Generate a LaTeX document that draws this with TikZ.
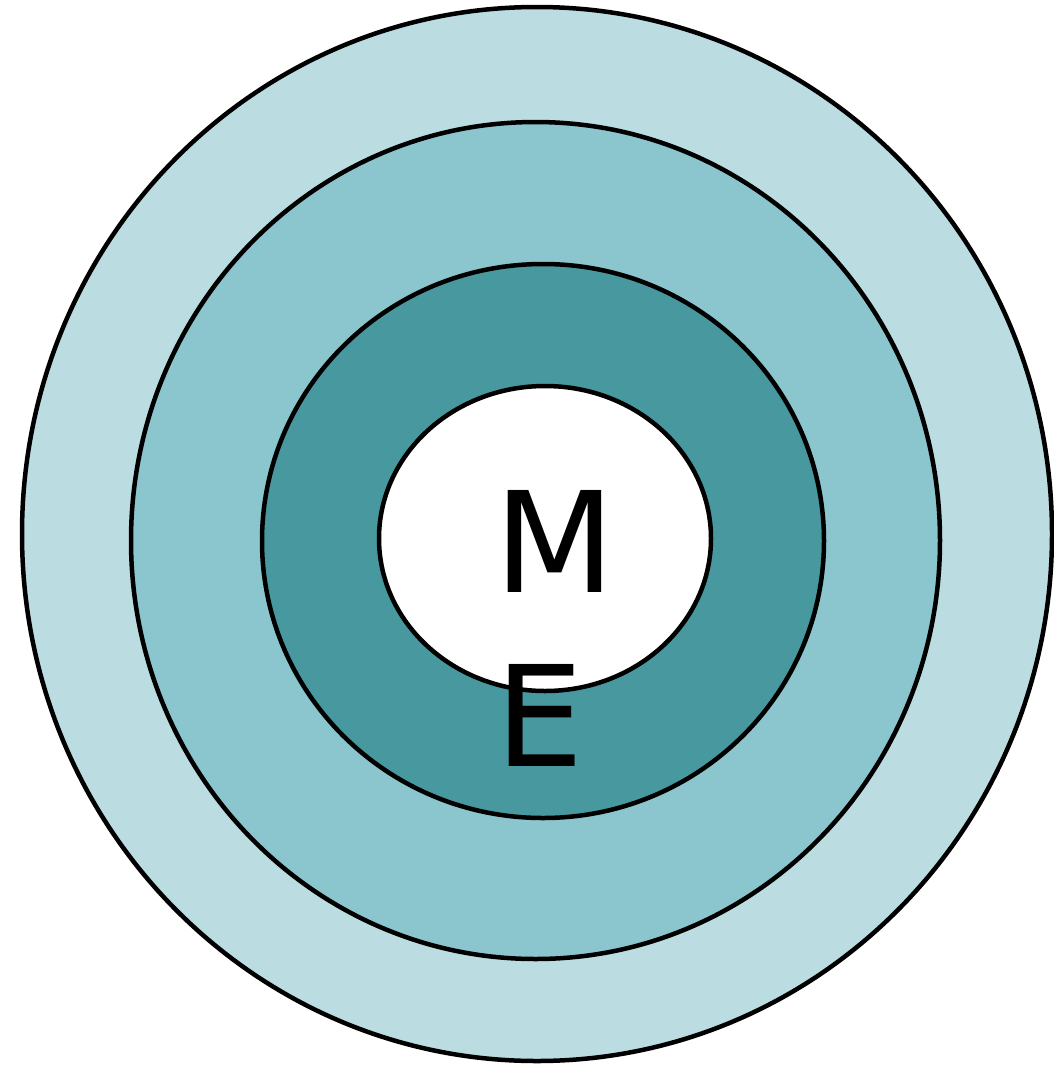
\documentclass[tikz,border=0pt]{standalone}
\usepackage{fontspec}
\setmainfont{DejaVu Sans}
\usetikzlibrary{shapes.geometric, positioning}
\definecolor{ringout}{HTML}{BBDDE2}
\definecolor{ringmid}{HTML}{8BC5CD}
\definecolor{ringin}{HTML}{4898A0}
\tikzset{
    ring/.style={ellipse, draw, line width=4.5pt, inner sep=0pt},
    letter/.style={inner sep=0pt, font=\fontsize{140}{140}\selectfont}
}

\begin{document}
\begin{tikzpicture}[x=1pt, y=-1pt]
    \useasboundingbox (0,0) rectangle (1053,1066);
    \node (outer) [ring, fill=ringout, minimum width=1030pt, minimum height=1054pt] at (537,534) {};
    \node (middle) [ring, fill=ringmid, minimum width=809pt, minimum height=837pt] at (535.5,540.5) {};
    \node (inner) [ring, fill=ringin, minimum width=562pt, minimum height=554pt] at (543,541) {};
    \node (core) [ring, fill=white, minimum width=332pt, minimum height=305pt] at (545,538.5) {};
    \node (m) [letter] at (554.5,541) {M};
    \node (e) [letter] at (540,715) {E};
\end{tikzpicture}
\end{document}
